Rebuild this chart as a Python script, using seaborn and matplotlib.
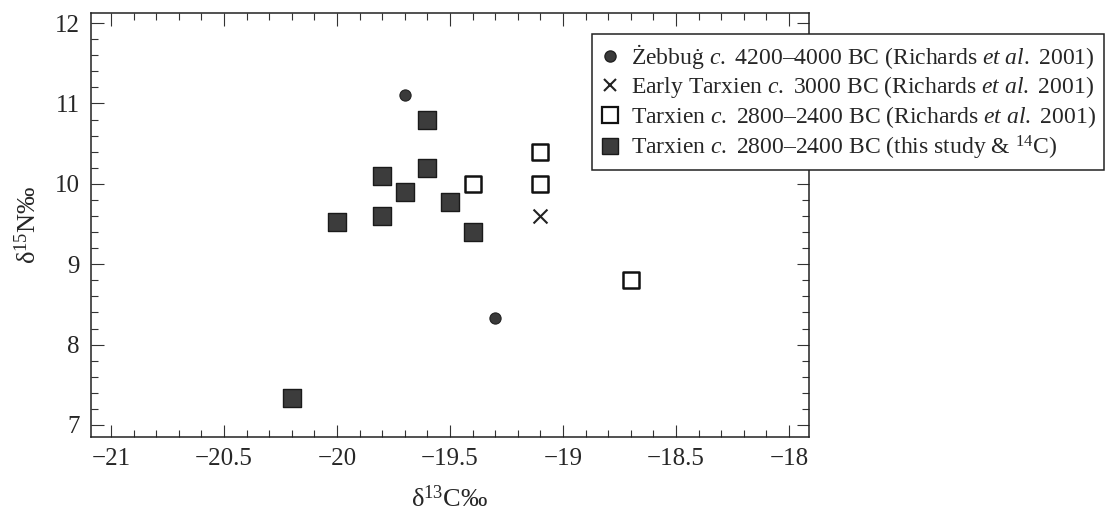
import numpy as np
import pandas as pd
import matplotlib
matplotlib.use('Agg')
import matplotlib.pyplot as plt
import seaborn as sns
from matplotlib.ticker import MultipleLocator
from matplotlib.lines import Line2D

# values (d13C, d15N)
zebbug_c = [-19.7, -19.3]
zebbug_n = [11.1, 8.33]

early_c = [-19.1]
early_n = [9.6]

richards_c = [-19.4, -19.1, -19.1, -18.7]
richards_n = [10.0, 10.4, 10.0, 8.8]

study_c = [-19.6, -19.6, -19.8, -19.7, -19.5, -19.8, -20.0, -19.4, -20.2]
study_n = [10.8, 10.2, 10.1, 9.9, 9.78, 9.6, 9.52, 9.4, 7.33]

labels = [
    'Żebbuġ $\\it{c.}$ 4200–4000 BC (Richards $\\it{et\\ al.}$ 2001)',
    'Early Tarxien $\\it{c.}$ 3000 BC (Richards $\\it{et\\ al.}$ 2001)',
    'Tarxien $\\it{c.}$ 2800–2400 BC (Richards $\\it{et\\ al.}$ 2001)',
    'Tarxien $\\it{c.}$ 2800–2400 BC (this study & $^{14}$C)',
]

sns.set_theme(style='ticks')
plt.rcParams['font.family'] = ['Liberation Serif', 'DejaVu Serif']
plt.rcParams['mathtext.fontset'] = 'custom'
plt.rcParams['mathtext.rm'] = 'Liberation Serif'
plt.rcParams['mathtext.it'] = 'Liberation Serif:italic'

fig = plt.figure(figsize=(11.07, 5.16), dpi=100)
ax = fig.add_axes([0.082, 0.153, 0.649, 0.821])

sns.scatterplot(x=zebbug_c, y=zebbug_n, ax=ax, marker='o', s=65,
                color='#3a3a3a', edgecolor='#222222', linewidth=0.8, zorder=3)
sns.scatterplot(x=early_c, y=early_n, ax=ax, marker='x', s=100,
                color='#222222', linewidth=1.5, zorder=3)
sns.scatterplot(x=richards_c, y=richards_n, ax=ax, marker='s', s=140,
                facecolor='white', edgecolor='#111111', linewidth=1.8, zorder=3)
sns.scatterplot(x=study_c, y=study_n, ax=ax, marker='s', s=155,
                color='#3c3c3c', edgecolor='#1a1a1a', linewidth=1.0, zorder=3)

ax.set_xlim(-21.09, -17.91)
ax.set_ylim(6.85, 12.12)
ax.xaxis.set_minor_locator(MultipleLocator(0.1))
ax.yaxis.set_major_locator(MultipleLocator(1))
ax.yaxis.set_minor_locator(MultipleLocator(0.2))
ax.set_xticks([-21, -20.5, -20, -19.5, -19, -18.5, -18])
ax.set_xticklabels(['−21', '−20.5', '−20', '−19.5', '−19', '−18.5', '−18'])
ax.tick_params(which='both', direction='in', top=True, right=True,
               labelsize=18, color='#333333', width=0.8)
ax.tick_params(which='major', length=9, pad=8)
ax.tick_params(which='minor', length=5)
for sp in ax.spines.values():
    sp.set_linewidth(1.1)
    sp.set_color('#222222')

ax.set_xlabel('δ$^{13}$C‰', fontsize=19, labelpad=11)
ax.set_ylabel('δ$^{15}$N‰', fontsize=19, labelpad=10)

handles = [
    Line2D([], [], ls='none', marker='o', markersize=8, color='#3a3a3a', markeredgecolor='#222222'),
    Line2D([], [], ls='none', marker='x', markersize=9, color='#222222', markeredgewidth=1.5),
    Line2D([], [], ls='none', marker='s', markersize=12, markerfacecolor='white',
           markeredgecolor='#111111', markeredgewidth=1.6),
    Line2D([], [], ls='none', marker='s', markersize=12, color='#3c3c3c', markeredgecolor='#1a1a1a'),
]
leg = fig.legend(handles, labels, loc='upper left', bbox_to_anchor=(0.535, 0.935),
                 fontsize=17, frameon=True, fancybox=False, edgecolor='#222222',
                 framealpha=1, handlelength=0.8, handletextpad=0.5,
                 labelspacing=0.15, borderpad=0.35, borderaxespad=0)
leg.get_frame().set_linewidth(1.1)

fig.savefig('out.png', dpi=100)
